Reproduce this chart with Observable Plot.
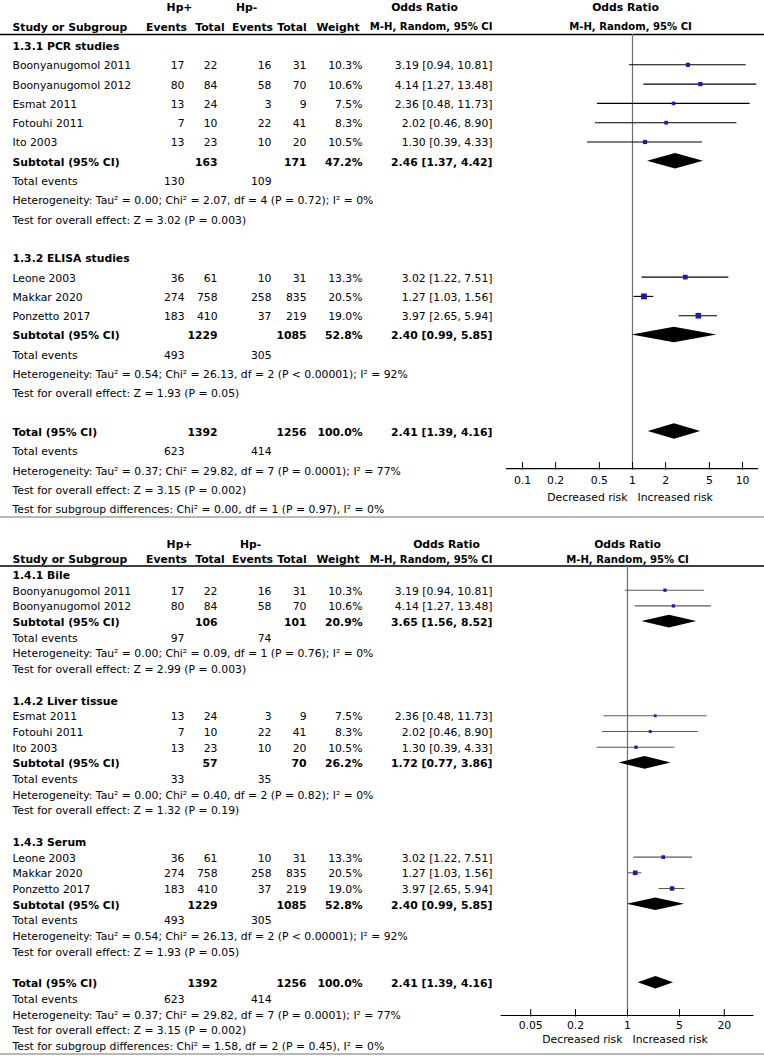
<!DOCTYPE html>
<html><head><meta charset="utf-8">
<script src="https://cdn.jsdelivr.net/npm/d3@7"></script>
<script src="https://cdn.jsdelivr.net/npm/@observablehq/plot@0.6"></script>
<style>
html,body{margin:0;padding:0;background:#fff;}
#page{width:764px;height:1056px;overflow:hidden;background:#fff;}
.sep{height:2px;background:#b8b8b8;}
svg{display:block;overflow:visible;}
</style></head><body><div id="page"></div>
<script>
// ---------- data ----------
const studies = ["Boonyanugomol 2011", "Boonyanugomol 2012", "Esmat 2011", "Fotouhi 2011", "Ito 2003", "Leone 2003", "Makkar 2020", "Ponzetto 2017"];
const hpPosEvents = [17, 80, 13, 7, 13, 36, 274, 183];
const hpPosTotal  = [22, 84, 24, 10, 23, 61, 758, 410];
const hpNegEvents = [16, 58, 3, 22, 10, 10, 258, 37];
const hpNegTotal  = [31, 70, 9, 41, 20, 31, 835, 219];
const weights     = [10.3, 10.6, 7.5, 8.3, 10.5, 13.3, 20.5, 19.0];
const oddsRatio   = [3.19, 4.14, 2.36, 2.02, 1.30, 3.02, 1.27, 3.97];
const ciLow       = [0.94, 1.27, 0.48, 0.46, 0.39, 1.22, 1.03, 2.65];
const ciHigh      = [10.81, 13.48, 11.73, 8.90, 4.33, 7.51, 1.56, 5.94];

// panel 1.3 (PCR / ELISA)
const topGroupTitles  = ["1.3.1 PCR studies", "1.3.2 ELISA studies"];
const topGroupMembers = [[0, 1, 2, 3, 4], [5, 6, 7]];
const topSubPosTotal  = [163, 1229];
const topSubNegTotal  = [171, 1085];
const topSubWeight    = [47.2, 52.8];
const topSubOR        = [2.46, 2.40];
const topSubLow       = [1.37, 0.99];
const topSubHigh      = [4.42, 5.85];
const topSubPosEvents = [130, 493];
const topSubNegEvents = [109, 305];
const topSubHet = ["Heterogeneity: Tau² = 0.00; Chi² = 2.07, df = 4 (P = 0.72); I² = 0%",
                   "Heterogeneity: Tau² = 0.54; Chi² = 26.13, df = 2 (P < 0.00001); I² = 92%"];
const topSubTest = ["Test for overall effect: Z = 3.02 (P = 0.003)",
                    "Test for overall effect: Z = 1.93 (P = 0.05)"];
const topSubgroupDiff = "Test for subgroup differences: Chi² = 0.00, df = 1 (P = 0.97), I² = 0%";
const topTicks = [0.1, 0.2, 0.5, 1, 2, 5, 10];

// panel 1.4 (sample type)
const botGroupTitles  = ["1.4.1 Bile", "1.4.2 Liver tissue", "1.4.3 Serum"];
const botGroupMembers = [[0, 1], [2, 3, 4], [5, 6, 7]];
const botSubPosTotal  = [106, 57, 1229];
const botSubNegTotal  = [101, 70, 1085];
const botSubWeight    = [20.9, 26.2, 52.8];
const botSubOR        = [3.65, 1.72, 2.40];
const botSubLow       = [1.56, 0.77, 0.99];
const botSubHigh      = [8.52, 3.86, 5.85];
const botSubPosEvents = [97, 33, 493];
const botSubNegEvents = [74, 35, 305];
const botSubHet = ["Heterogeneity: Tau² = 0.00; Chi² = 0.09, df = 1 (P = 0.76); I² = 0%",
                   "Heterogeneity: Tau² = 0.00; Chi² = 0.40, df = 2 (P = 0.82); I² = 0%",
                   "Heterogeneity: Tau² = 0.54; Chi² = 26.13, df = 2 (P < 0.00001); I² = 92%"];
const botSubTest = ["Test for overall effect: Z = 2.99 (P = 0.003)",
                    "Test for overall effect: Z = 1.32 (P = 0.19)",
                    "Test for overall effect: Z = 1.93 (P = 0.05)"];
const botSubgroupDiff = "Test for subgroup differences: Chi² = 1.58, df = 2 (P = 0.45), I² = 0%";
const botTicks = [0.05, 0.2, 1, 5, 20];

// overall
const overallPosTotal = 1392, overallNegTotal = 1256, overallWeight = 100.0;
const overallOR = 2.41, overallLow = 1.39, overallHigh = 4.16;
const overallPosEvents = 623, overallNegEvents = 414;
const overallHet  = "Heterogeneity: Tau² = 0.37; Chi² = 29.82, df = 7 (P = 0.0001); I² = 77%";
const overallTest = "Test for overall effect: Z = 3.15 (P = 0.002)";

// ---------- build tables ----------
const f2 = v => v.toFixed(2);
const pct = v => v.toFixed(1) + "%";
const orTxt = (o, l, h) => `${f2(o)} [${f2(l)}, ${f2(h)}]`;

function build(g) {
  const rows = [], forest = [], diamonds = [];
  let i = 0;
  g.titles.forEach((t, k) => {
    rows.push({i, label: t, bold: true}); i++;
    g.members[k].forEach(s => {
      rows.push({i, label: studies[s], c1: String(hpPosEvents[s]), c2: String(hpPosTotal[s]),
        c3: String(hpNegEvents[s]), c4: String(hpNegTotal[s]), c5: pct(weights[s]),
        c6: orTxt(oddsRatio[s], ciLow[s], ciHigh[s]), bold: false});
      forest.push({i, or: oddsRatio[s], lo: ciLow[s], hi: ciHigh[s], w: weights[s]});
      i++;
    });
    rows.push({i, label: "Subtotal (95% CI)", c2: String(g.posT[k]), c4: String(g.negT[k]),
      c5: pct(g.w[k]), c6: orTxt(g.or[k], g.lo[k], g.hi[k]), bold: true});
    diamonds.push({id: "s" + k, i, or: g.or[k], lo: g.lo[k], hi: g.hi[k]});
    i++;
    rows.push({i, label: "Total events", c1: String(g.posE[k]), c3: String(g.negE[k]), bold: false}); i++;
    rows.push({i, label: g.het[k], bold: false}); i++;
    rows.push({i, label: g.test[k], bold: false}); i++;
    i++; // blank line
  });
  rows.push({i, label: "Total (95% CI)", c2: String(overallPosTotal), c4: String(overallNegTotal),
    c5: pct(overallWeight), c6: orTxt(overallOR, overallLow, overallHigh), bold: true});
  diamonds.push({id: "tot", i, or: overallOR, lo: overallLow, hi: overallHigh});
  i++;
  rows.push({i, label: "Total events", c1: String(overallPosEvents), c3: String(overallNegEvents), bold: false}); i++;
  rows.push({i, label: overallHet, bold: false}); i++;
  rows.push({i, label: overallTest, bold: false}); i++;
  rows.push({i, label: g.diff, bold: false});
  return {rows, forest, diamonds, n: i};
}

const topTable = build({titles: topGroupTitles, members: topGroupMembers, posT: topSubPosTotal, negT: topSubNegTotal,
  w: topSubWeight, or: topSubOR, lo: topSubLow, hi: topSubHigh, posE: topSubPosEvents, negE: topSubNegEvents,
  het: topSubHet, test: topSubTest, diff: topSubgroupDiff});
const botTable = build({titles: botGroupTitles, members: botGroupMembers, posT: botSubPosTotal, negT: botSubNegTotal,
  w: botSubWeight, or: botSubOR, lo: botSubLow, hi: botSubHigh, posE: botSubPosEvents, negE: botSubNegEvents,
  het: botSubHet, test: botSubTest, diff: botSubgroupDiff});

// ---------- layout ----------
const FONT = "DejaVu Sans";
const FS = "10.8px";
const cols = [
  {key: "label", dx: 12, anchor: "start"},
  {key: "c1", dx: 184, anchor: "end"},
  {key: "c2", dx: 217, anchor: "end"},
  {key: "c3", dx: 271, anchor: "end"},
  {key: "c4", dx: 306, anchor: "end"},
  {key: "c5", dx: 362, anchor: "end"},
  {key: "c6", dx: 492, anchor: "end"}
];

function panel(t, o) {
  const step = o.step;
  const pts = t.diamonds.flatMap(d => [
    {id: d.id, x: d.lo, y1: d.i, y2: d.i},
    {id: d.id, x: d.or, y1: d.i - 0.4, y2: d.i + 0.4},
    {id: d.id, x: d.hi, y1: d.i, y2: d.i}
  ]);
  const xRange = o.xDomain.map(v => o.center + o.decade * Math.log10(v));
  const marks = [];
  // header rule
  marks.push(Plot.ruleY([o.hdrLine], {stroke: "#000", strokeWidth: 1.5}));
  // null line
  marks.push(Plot.ruleX([1], {y1: o.hdrLine, y2: o.axisRow, stroke: "#6e6e6e", strokeWidth: 1.2}));
  // header texts
  o.headers.forEach(h => {
    marks.push(Plot.text([h[0]], {y: [h[3]], text: d => d, frameAnchor: "left", dx: h[1],
      textAnchor: h[2], fontWeight: "bold", fill: "#000", fontSize: h[4] || FS}));
  });
  // table columns
  cols.forEach(c => {
    [true, false].forEach(b => {
      const sub = t.rows.filter(r => r[c.key] != null && r.bold === b);
      if (sub.length) marks.push(Plot.text(sub, {y: "i", text: c.key, frameAnchor: "left", dx: c.dx,
        textAnchor: c.anchor, fontWeight: b ? "bold" : "normal", fill: "#000"}));
    });
  });
  // forest: CI lines, squares, diamonds
  marks.push(Plot.ruleY(t.forest, {y: "i", x1: "lo", x2: "hi", stroke: o.ciColor, strokeWidth: 1.1, dy: -1}));
  marks.push(Plot.dot(t.forest, {x: "or", y: "i", r: "w", symbol: "square", fill: "#1c1caa", stroke: null, dy: -1}));
  marks.push(Plot.areaY(pts, {x: "x", y1: "y1", y2: "y2", z: "id", fill: "#000", curve: "linear", dy: -1}));
  // axis
  marks.push(Plot.ruleY([o.axisRow], {x1: o.xDomain[0], x2: o.xDomain[1], stroke: "#000", strokeWidth: 1.1}));
  marks.push(Plot.ruleX(o.ticks, {x: d => d, y1: o.axisRow - 6 / step, y2: o.axisRow + 1.5 / step, stroke: "#000"}));
  marks.push(Plot.text(o.ticks, {x: d => d, y: o.axisRow + o.labelOff / step, text: d => String(d), fill: "#000"}));
  marks.push(Plot.text(["Decreased risk"], {x: [1], y: [o.axisRow + o.riskOff / step], text: d => d, textAnchor: "end", dx: -5, fill: "#000"}));
  marks.push(Plot.text(["Increased risk"], {x: [1], y: [o.axisRow + o.riskOff / step], text: d => d, textAnchor: "start", dx: 5, fill: "#000"}));

  return Plot.plot({
    width: 764, height: o.height, margin: 0,
    style: {fontFamily: FONT, fontSize: FS, color: "#000", background: "#fff", overflow: "visible"},
    x: {type: "log", domain: o.xDomain, range: xRange, axis: null},
    y: {domain: [0, t.n], range: [o.y0, o.y0 + step * t.n], axis: null},
    r: {range: [0, o.rMax]},
    marks
  });
}

const MH = "10.1px";
const topHeaders = [
  ["Hp+", 179, "middle", -2], ["Hp-", 246, "middle", -2], ["Odds Ratio", 424, "middle", -2], ["Odds Ratio", 625, "middle", -2],
  ["Study or Subgroup", 12, "start", -1], ["Events", 166, "middle", -1], ["Total", 209.5, "middle", -1],
  ["Events", 252, "middle", -1], ["Total", 291.5, "middle", -1], ["Weight", 337.5, "middle", -1],
  ["M-H, Random, 95% CI", 492, "end", -1, MH], ["M-H, Random, 95% CI", 630, "middle", -1, MH]
];
const botHeaders = [
  ["Hp+", 179, "middle", -2], ["Hp-", 250, "middle", -2], ["Odds Ratio", 446, "middle", -2], ["Odds Ratio", 627, "middle", -2],
  ["Study or Subgroup", 12, "start", -1], ["Events", 166, "middle", -1], ["Total", 209.5, "middle", -1],
  ["Events", 252, "middle", -1], ["Total", 291.5, "middle", -1], ["Weight", 337.5, "middle", -1],
  ["M-H, Random, 95% CI", 492, "end", -1, MH], ["M-H, Random, 95% CI", 627, "middle", -1, MH]
];

const page = document.getElementById("page");
page.append(panel(topTable, {height: 516, y0: 46, step: 19.3, hdrLine: -0.62, axisRow: 21.87, labelOff: 12, riskOff: 29,
  xDomain: [1 / 14, 14], center: 632, decade: 110, ticks: topTicks, ciColor: "#000", rMax: 3.3, headers: topHeaders}));
const s1 = document.createElement("div"); s1.className = "sep"; page.append(s1);
page.append(panel(botTable, {height: 535, y0: 57, step: 15.7, hdrLine: -0.6, axisRow: 28.03, labelOff: 10, riskOff: 24,
  xDomain: [0.02, 50], center: 627, decade: 74.4, ticks: botTicks, ciColor: "#5a5a5a", rMax: 2.6, headers: botHeaders}));
const s2 = document.createElement("div"); s2.className = "sep"; page.append(s2);
</script>
</body></html>
